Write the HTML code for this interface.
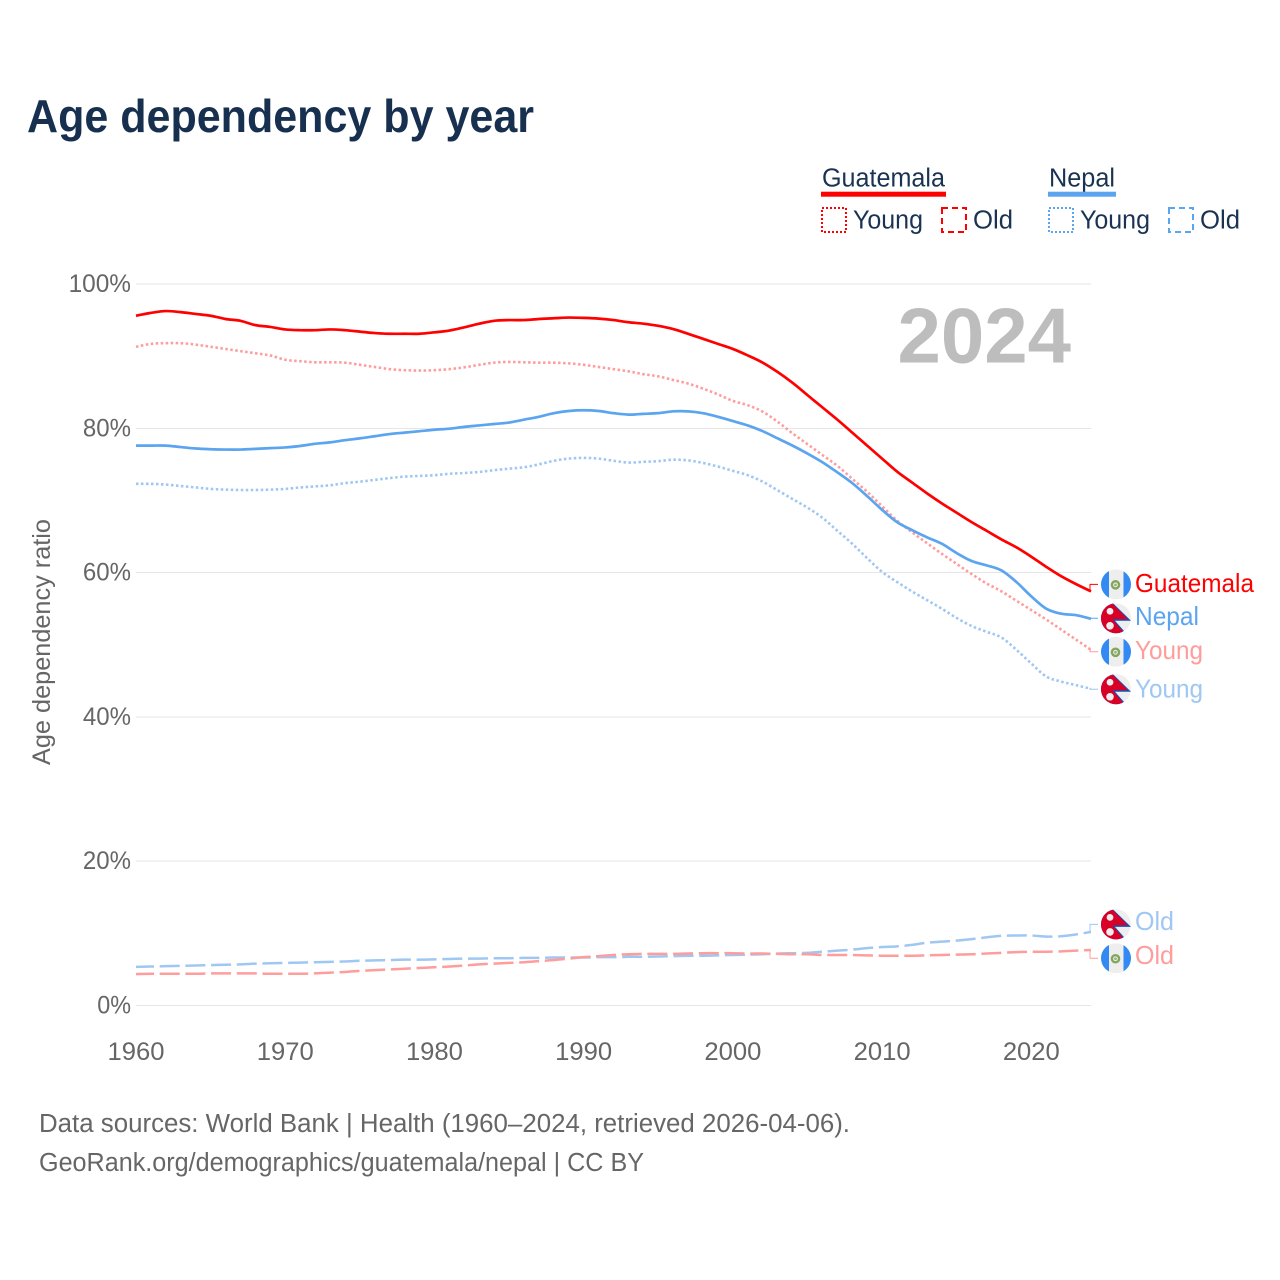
<!DOCTYPE html>
<html lang="en">
<head>
<meta charset="utf-8">
<title>Age dependency by year</title>
<style>
html,body{margin:0;padding:0;background:#fff;}
svg{display:block;font-family:"Liberation Sans",sans-serif;}
</style>
</head>
<body>
<svg id="chart" xmlns="http://www.w3.org/2000/svg" width="1280" height="1280" viewBox="0 0 1280 1280">
<defs>
<clipPath id="flag-clip"><circle cx="0" cy="0" r="15"/></clipPath>
</defs>
<text x="27" y="132" font-size="46" font-weight="700" fill="#17304f" textLength="507" lengthAdjust="spacingAndGlyphs">Age dependency by year</text>
<g>
<text x="822" y="186.5" font-size="25.5" fill="#1a3353" textLength="123" lengthAdjust="spacingAndGlyphs">Guatemala</text>
<rect x="821" y="191.7" width="125" height="5" fill="#ff0000"/>
<rect x="822" y="208" width="24" height="24" fill="none" stroke="#ff0000" stroke-width="2" stroke-dasharray="2 2"/>
<text x="853" y="228.5" font-size="25.5" fill="#1a3353" textLength="70" lengthAdjust="spacingAndGlyphs">Young</text>
<rect x="942" y="208" width="24" height="24" fill="none" stroke="#ff0000" stroke-width="2" stroke-dasharray="6 4"/>
<text x="973" y="228.5" font-size="25.5" fill="#1a3353" textLength="40" lengthAdjust="spacingAndGlyphs">Old</text>
<text x="1049" y="186.5" font-size="25.5" fill="#1a3353" textLength="66" lengthAdjust="spacingAndGlyphs">Nepal</text>
<rect x="1048" y="191.7" width="68" height="5" fill="#5ba4ef"/>
<rect x="1049" y="208" width="24" height="24" fill="none" stroke="#5ba4ef" stroke-width="2" stroke-dasharray="2 2"/>
<text x="1080" y="228.5" font-size="25.5" fill="#1a3353" textLength="70" lengthAdjust="spacingAndGlyphs">Young</text>
<rect x="1169" y="208" width="24" height="24" fill="none" stroke="#5ba4ef" stroke-width="2" stroke-dasharray="6 4"/>
<text x="1200" y="228.5" font-size="25.5" fill="#1a3353" textLength="40" lengthAdjust="spacingAndGlyphs">Old</text>
</g>
<g id="grid"></g>
<g id="yticks"></g>
<g id="xticks"></g>
<text transform="translate(50 642) rotate(-90)" text-anchor="middle" font-size="25" fill="#666666" textLength="246" lengthAdjust="spacingAndGlyphs">Age dependency ratio</text>
<text x="1071" y="362.5" text-anchor="end" font-size="78" font-weight="700" fill="#bdbdbd">2024</text>
<g id="series"></g>
<g id="labels"></g>
<text x="39" y="1132" font-size="25.5" fill="#666666" textLength="811" lengthAdjust="spacingAndGlyphs">Data sources: World Bank | Health (1960–2024, retrieved 2026-04-06).</text>
<text x="39" y="1171" font-size="25.5" fill="#666666" textLength="605" lengthAdjust="spacingAndGlyphs">GeoRank.org/demographics/guatemala/nepal | CC BY</text>
</svg>
<script>
const firstYear = 1960;
const lastYear = 2024;
const yTicks = [0, 20, 40, 60, 80, 100];
const xTicks = [1960, 1970, 1980, 1990, 2000, 2010, 2020];
const guatemalaTotal = [95.6,96.0,96.25,96.1,95.85,95.6,95.15,94.9,94.3,94.05,93.7,93.6,93.6,93.7,93.6,93.4,93.2,93.1,93.1,93.1,93.3,93.55,94.0,94.5,94.9,95.0,95.0,95.15,95.25,95.35,95.3,95.2,95.0,94.7,94.5,94.2,93.75,93.1,92.4,91.7,91.0,90.1,89.1,87.8,86.3,84.6,82.9,81.2,79.4,77.6,75.8,74.0,72.5,71.0,69.6,68.3,67.0,65.8,64.6,63.5,62.2,60.8,59.5,58.4,57.4];
const nepalTotal = [77.6,77.6,77.6,77.4,77.2,77.1,77.05,77.05,77.15,77.25,77.35,77.55,77.85,78.05,78.35,78.6,78.9,79.2,79.4,79.6,79.8,79.95,80.2,80.4,80.6,80.8,81.2,81.6,82.1,82.4,82.5,82.4,82.1,81.9,82.0,82.1,82.35,82.35,82.1,81.6,81.0,80.4,79.6,78.6,77.6,76.5,75.3,73.9,72.4,70.6,68.7,67.0,65.9,64.9,64.0,62.7,61.6,61.0,60.3,58.7,56.7,55.0,54.3,54.1,53.6];
const guatemalaYoung = [91.3,91.7,91.8,91.8,91.6,91.3,91.0,90.7,90.4,90.1,89.5,89.3,89.15,89.15,89.1,88.8,88.5,88.2,88.05,88.0,88.05,88.2,88.45,88.8,89.1,89.2,89.15,89.1,89.1,89.0,88.8,88.5,88.2,87.9,87.5,87.2,86.7,86.2,85.5,84.7,83.8,83.2,82.3,80.9,79.3,77.8,76.3,74.8,73.0,71.2,69.2,67.2,65.6,64.1,62.6,61.2,59.8,58.5,57.4,56.1,54.8,53.5,52.1,50.7,49.3];
const nepalYoung = [72.3,72.3,72.2,72.0,71.8,71.6,71.5,71.45,71.45,71.5,71.6,71.8,71.95,72.1,72.4,72.6,72.85,73.1,73.3,73.4,73.5,73.7,73.8,73.95,74.2,74.4,74.6,75.0,75.5,75.8,75.9,75.8,75.5,75.25,75.35,75.45,75.65,75.55,75.2,74.7,74.1,73.5,72.6,71.4,70.2,69.0,67.6,65.8,64.0,62.0,60.1,58.7,57.4,56.2,55.0,53.7,52.6,51.8,51.0,49.3,47.4,45.6,44.9,44.4,43.9];
const guatemalaOld = [4.35,4.4,4.4,4.4,4.4,4.45,4.45,4.45,4.45,4.4,4.4,4.4,4.45,4.55,4.65,4.8,4.9,5.0,5.1,5.2,5.3,5.4,5.55,5.7,5.8,5.9,6.0,6.15,6.3,6.5,6.7,6.85,7.0,7.1,7.15,7.15,7.15,7.2,7.25,7.25,7.25,7.2,7.2,7.15,7.1,7.1,7.0,7.0,7.0,6.95,6.9,6.9,6.9,6.95,7.0,7.05,7.1,7.2,7.3,7.4,7.45,7.45,7.5,7.6,7.7];
const nepalOld = [5.35,5.4,5.45,5.5,5.55,5.6,5.65,5.7,5.8,5.85,5.9,5.95,6.0,6.05,6.1,6.2,6.25,6.3,6.35,6.35,6.4,6.45,6.5,6.5,6.55,6.55,6.6,6.6,6.65,6.65,6.65,6.7,6.7,6.75,6.75,6.8,6.85,6.9,6.9,6.95,7.0,7.05,7.1,7.2,7.25,7.3,7.45,7.6,7.75,7.95,8.1,8.2,8.4,8.7,8.85,9.0,9.2,9.45,9.65,9.7,9.7,9.55,9.6,9.85,10.2];

const PLOT_LEFT = 136, PLOT_RIGHT = 1091, PLOT_TOP = 284, PLOT_BOTTOM = 1005.5;
function xScale(year) { return PLOT_LEFT + (year - firstYear) / (lastYear - firstYear) * (PLOT_RIGHT - PLOT_LEFT); }
function yScale(v) { return PLOT_BOTTOM - v / 100 * (PLOT_BOTTOM - PLOT_TOP); }
const NS = 'http://www.w3.org/2000/svg';
function make(tag, parent, attrs) {
  const el = document.createElementNS(NS, tag);
  for (const k in attrs) el.setAttribute(k, attrs[k]);
  parent.appendChild(el);
  return el;
}
const gridG = document.getElementById('grid');
const yG = document.getElementById('yticks');
const xG = document.getElementById('xticks');
yTicks.forEach(function (t) {
  const line = make('line', gridG, {x1: PLOT_LEFT, x2: PLOT_RIGHT, y1: yScale(t), y2: yScale(t), stroke: '#e6e6e6', 'stroke-width': 1, 'shape-rendering': 'crispEdges'});
  
  
  const label = make('text', yG, {x: 131, y: yScale(t) + 8, 'text-anchor': 'end', 'font-size': 25, fill: '#666666', textLength: String(t).length * 14.3 + 19.5, lengthAdjust: 'spacingAndGlyphs'});
  
  
  label.textContent = t + '%';
});
xTicks.forEach(function (t) {
  const label = make('text', xG, {x: xScale(t), y: 1060, 'text-anchor': 'middle', 'font-size': 25, fill: '#666666', textLength: 57, lengthAdjust: 'spacingAndGlyphs'});
  
  
  label.textContent = t;
});

const RED = '#ff0000', BLUE = '#5ba4ef', LIGHT_RED = '#ff9c9c', LIGHT_BLUE = '#9fc7f3';
const seriesG = document.getElementById('series');
const labelsG = document.getElementById('labels');

function addGuatemalaFlag(g) {
  const inner = make('g', g, {'clip-path': 'url(#flag-clip)'});
  make('rect', inner, {x: -15, y: -15, width: 30, height: 30, fill: '#eeeeee'});
  make('rect', inner, {x: -15, y: -15, width: 8, height: 30, fill: '#338af3'});
  make('rect', inner, {x: 7.5, y: -15, width: 8, height: 30, fill: '#338af3'});
  make('circle', inner, {cx: -0.5, cy: 0.5, r: 3.6, fill: 'none', stroke: '#7fa85a', 'stroke-width': 2.4});
  make('circle', inner, {cx: -0.5, cy: 0.5, r: 1.4, fill: '#a9a98a'});
}
function addNepalFlag(g) {
  const inner = make('g', g, {'clip-path': 'url(#flag-clip)'});
  make('rect', inner, {x: -15, y: -15, width: 30, height: 30, fill: '#eeeeee'});
  make('polygon', inner, {points: '-4,-16 15,2.5 -1,2.5 10,15 10,17 -16,17 -16,-16', fill: '#0f52ba'});
  make('polygon', inner, {points: '-16,-16 -5,-16 12,1 -3.5,1 7.5,14 7.5,17 -16,17', fill: '#d80027'});
  make('circle', inner, {cx: -6, cy: -7, r: 3.4, fill: '#eeeeee'});
  make('circle', inner, {cx: -6, cy: 7.5, r: 3.8, fill: '#eeeeee'});
}

function smoothPath(values) {
  const pts = values.map(function (v, i) { return [xScale(firstYear + i), yScale(v)]; });
  let d = 'M' + pts[0][0].toFixed(2) + ' ' + pts[0][1].toFixed(2);
  for (let i = 0; i < pts.length - 1; i++) {
    const p0 = pts[Math.max(i - 1, 0)], p1 = pts[i], p2 = pts[i + 1], p3 = pts[Math.min(i + 2, pts.length - 1)];
    const c1x = p1[0] + (p2[0] - p0[0]) / 6, c1y = p1[1] + (p2[1] - p0[1]) / 6;
    const c2x = p2[0] - (p3[0] - p1[0]) / 6, c2y = p2[1] - (p3[1] - p1[1]) / 6;
    d += 'C' + c1x.toFixed(2) + ' ' + c1y.toFixed(2) + ' ' + c2x.toFixed(2) + ' ' + c2y.toFixed(2) + ' ' + p2[0].toFixed(2) + ' ' + p2[1].toFixed(2);
  }
  return d;
}
function drawSeries(name, values, color, width, dash, offset) {
  const line = make('path', seriesG, {d: smoothPath(values), fill: 'none', stroke: color, 'stroke-width': width, 'stroke-linejoin': 'round'});
  if (dash) { line.setAttribute('stroke-dasharray', dash); line.setAttribute('stroke-dashoffset', offset); }
  
  
}
function drawEndLabel(name, values, color, text, labelShift, textShift, textWidth, flag) {
  const yEnd = yScale(values[values.length - 1]);
  const yLabel = yEnd + labelShift;
  const conn = make('polyline', labelsG, {points: PLOT_RIGHT + ',' + yEnd + ' ' + (PLOT_RIGHT - 1) + ',' + yEnd + ' ' + (PLOT_RIGHT - 1) + ',' + yLabel + ' ' + (PLOT_RIGHT + 7) + ',' + yLabel, fill: 'none', stroke: color, 'stroke-width': 1});
  
  
  const g = make('g', labelsG, {transform: 'translate(1116 ' + yLabel + ')'});
  
  
  flag(g);
  const label = make('text', labelsG, {x: 1135, y: yLabel + textShift, 'font-size': 26, fill: color, textLength: textWidth, lengthAdjust: 'spacingAndGlyphs'});
  
  
  label.textContent = text;
}

drawSeries('nepal-old-line', nepalOld, LIGHT_BLUE, 2.5, '20 5.7', 2);
drawSeries('guatemala-old-line', guatemalaOld, LIGHT_RED, 2.5, '20 5.7', 2);
drawSeries('nepal-young-line', nepalYoung, LIGHT_BLUE, 2.6, '2.5 2.5', 0);
drawSeries('guatemala-young-line', guatemalaYoung, LIGHT_RED, 2.6, '2.5 2.5', 0);
drawSeries('nepal-total-line', nepalTotal, BLUE, 2.7, null, 0);
drawSeries('guatemala-total-line', guatemalaTotal, RED, 2.7, null, 0);

drawEndLabel('guatemala-total', guatemalaTotal, RED, 'Guatemala', -7, 7.4, 119, addGuatemalaFlag);
drawEndLabel('nepal-total', nepalTotal, BLUE, 'Nepal', -0.5, 6.7, 64, addNepalFlag);
drawEndLabel('guatemala-young', guatemalaYoung, LIGHT_RED, 'Young', 2, 7.3, 68, addGuatemalaFlag);
drawEndLabel('nepal-young', nepalYoung, LIGHT_BLUE, 'Young', 0.5, 8, 68, addNepalFlag);
drawEndLabel('nepal-old', nepalOld, LIGHT_BLUE, 'Old', -7.5, 5.7, 39, addNepalFlag);
drawEndLabel('guatemala-old', guatemalaOld, LIGHT_RED, 'Old', 8.3, 5.7, 39, addGuatemalaFlag);
</script>
</body>
</html>
